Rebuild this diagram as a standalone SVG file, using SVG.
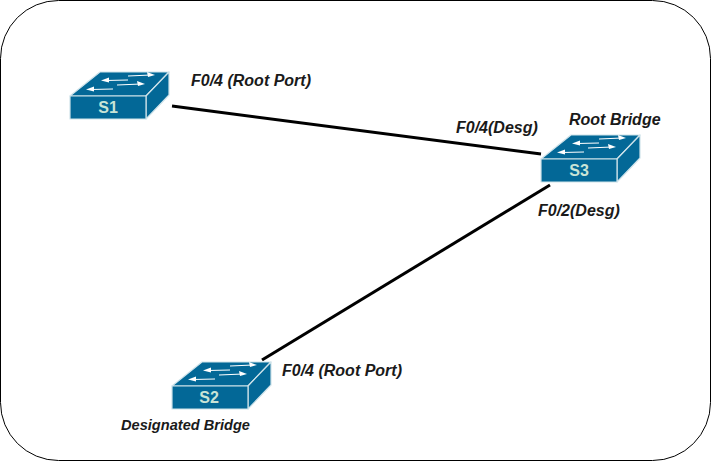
<svg xmlns="http://www.w3.org/2000/svg" width="711" height="461" viewBox="0 0 711 461">
<style>
.lbl{font-family:"Liberation Sans",Arial,sans-serif;font-size:16px;font-style:italic;font-weight:bold;fill:#1a1a1a}
.small{font-size:14.6px}
.link{stroke:#000;stroke-width:3;fill:none}
.body{fill:#036897;stroke:#cfe3ea;stroke-width:1.2;stroke-linejoin:round}
.arr{stroke:#fff;stroke-width:1.2;fill:none}
.tip{fill:#fff}
.name{font-family:"Liberation Sans",Arial,sans-serif;font-size:16px;font-weight:bold;fill:#c9e4d6;text-anchor:middle}
</style>
<defs>
<g id="sw">
<path class="body" d="M0 0L30 -24H99L76 0Z"/>
<path class="body" d="M76 0L99 -24V-1L76 23Z"/>
<rect class="body" x="0" y="0" width="76" height="23"/>
<path class="arr" d="M58 -20L81 -21"/>
<path class="tip" d="M85 -21L77 -24L78 -19Z"/>
<path class="arr" d="M58 -16L36 -15.500"/>
<path class="tip" d="M31 -15.500L39 -18.500L39 -13.500Z"/>
<path class="arr" d="M47 -11L71 -12"/>
<path class="tip" d="M75 -12L67 -15L68 -10Z"/>
<path class="arr" d="M43 -7L21 -6.500"/>
<path class="tip" d="M16 -6.500L24 -9.500L24 -4.500Z"/>
</g>
</defs>
<rect x="0.500" y="0.500" width="710" height="460" rx="58" ry="58" fill="#fff" stroke="#000" stroke-width="1"/>
<g id="connectors">
<path class="link" d="M172 106L541 154"/>
<path class="link" d="M262 360L550 185"/>
</g>
<g id="S1"><use href="#sw" x="70" y="96"/><text class="name" x="108" y="113">S1</text></g>
<g id="S3"><use href="#sw" x="541" y="159"/><text class="name" x="579" y="176">S3</text></g>
<g id="S2"><use href="#sw" x="172" y="386"/><text class="name" x="209" y="403">S2</text></g>
<g id="labels">
<text class="lbl" x="191" y="86">F0/4 (Root Port)</text>
<text class="lbl" x="456" y="133">F0/4(Desg)</text>
<text class="lbl" x="569" y="125">Root Bridge</text>
<text class="lbl" x="538" y="216">F0/2(Desg)</text>
<text class="lbl" x="282" y="376">F0/4 (Root Port)</text>
<text class="lbl small" x="121" y="430">Designated Bridge</text>
</g>
</svg>
